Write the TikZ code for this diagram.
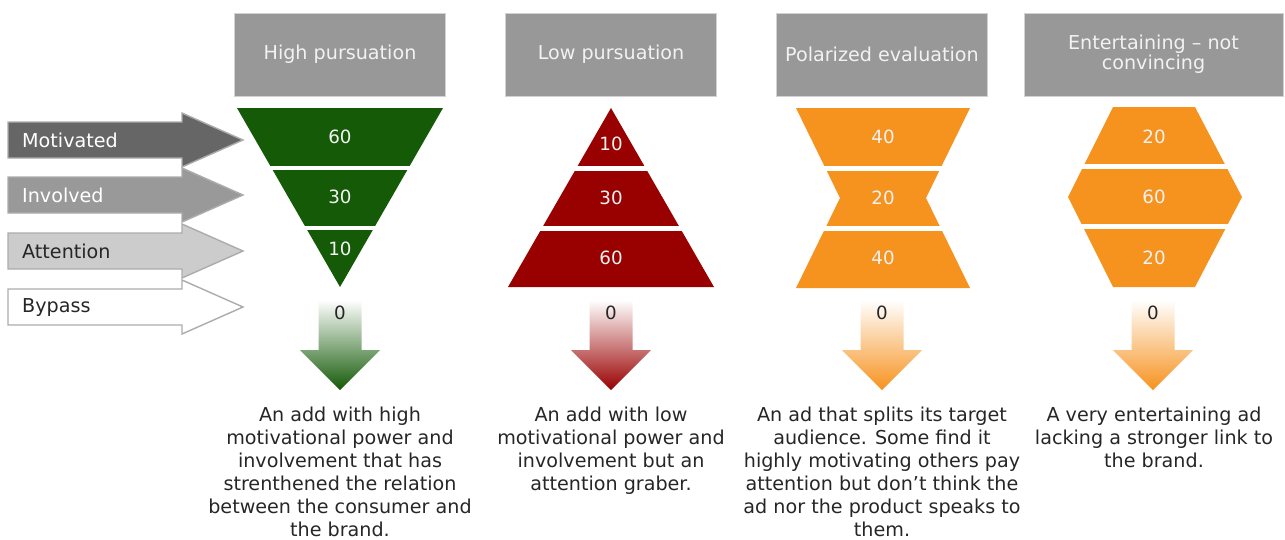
\documentclass[tikz,border=0pt]{standalone}
\usepackage{fontspec}
\setmainfont{DejaVu Sans}

\definecolor{hdrgray}{HTML}{989898}
\definecolor{funnelgreen}{HTML}{145A07}
\definecolor{funnelred}{HTML}{990000}
\definecolor{funnelorange}{HTML}{F6921E}
\definecolor{txtdark}{HTML}{262626}

\begin{document}
\begin{tikzpicture}[x=0.02cm, y=-0.02cm,
        header/.style={rectangle, fill=hdrgray, draw=gray!35, minimum width=4.22cm, minimum height=1.66cm, align=center, text=white!95!black, font=\fontsize{10.9}{11.2}\selectfont},
        level/.style={text=white!95!black, font=\fontsize{10.4}{12}\selectfont},
        gap/.style={draw=white, line width=0.09cm},
        zero/.style={text=txtdark, font=\fontsize{10.4}{12}\selectfont},
        note/.style={align=center, anchor=north, inner sep=0pt, text=txtdark, font=\fontsize{10.9}{13.1}\selectfont},
        sidearrow/.style={draw=gray!65, line width=0.8pt}
    ]
        \useasboundingbox (0,0) rectangle (1285,539);

        % Column headers
        \node [header] (high) at (340,54.5) {High pursuation};
        \node [header] (low) at (611,54.5) {Low pursuation};
        \node [header] (polar) at (882,54.5) {Polarized evaluation};
        \node [header, minimum width=5.18cm] (enter) at (1153.5,54.5) {Entertaining – not\\convincing};

        % Levels on the left
        \foreach \y/\col/\tcol/\lbl [count=\i] in {140/black!60/white/Motivated, 195/black!40/white/Involved, 251/black!20/txtdark/Attention, 307/white/txtdark/Bypass} {
            \draw [sidearrow, fill=\col] (8,\y-18) -- (182,\y-18) -- (182,\y-27) -- (243,\y) -- (182,\y+27) -- (182,\y+18) -- (8,\y+18) -- cycle;
            \node [anchor=west, text=\tcol, font=\fontsize{10.9}{12}\selectfont] (side\i) at (16,\y) {\lbl};
        }

        % High pursuation: inverted triangle
        \fill [funnelgreen] (237,108) -- (443,108) -- (340,287) -- cycle;
        \draw [gap] (260,168) -- (420,168) (295,228) -- (385,228);
        \node [level] (high60) at (340,137) {60};
        \node [level] (high30) at (340,197) {30};
        \node [level] (high10) at (340,249) {10};

        % Low pursuation: pyramid
        \fill [funnelred] (611,108) -- (714,287) -- (508,287) -- cycle;
        \draw [gap] (565,168.5) -- (657,168.5) (530,228.5) -- (692,228.5);
        \node [level] (low10) at (611,144) {10};
        \node [level] (low30) at (611,198) {30};
        \node [level] (low60) at (611,258) {60};

        % Polarized evaluation: hourglass
        \fill [funnelorange] (796,108) -- (970,108) -- (926,198) -- (970,288) -- (796,288) -- (840,198) -- cycle;
        \draw [gap] (815,168.5) -- (951,168.5) (815,228.5) -- (951,228.5);
        \node [level] (polar40a) at (883,137) {40};
        \node [level] (polar20) at (883,198) {20};
        \node [level] (polar40b) at (883,258) {40};

        % Entertaining: hexagon
        \fill [funnelorange] (1113,107) -- (1195,107) -- (1242,197) -- (1195,287) -- (1113,287) -- (1068,197) -- cycle;
        \draw [gap] (1075,166.5) -- (1233,166.5) (1075,226.5) -- (1233,226.5);
        \node [level] (enter20a) at (1154,137) {20};
        \node [level] (enter60) at (1154,197) {60};
        \node [level] (enter20b) at (1154,258) {20};

        % Bypass arrows
        \foreach \x/\col/\nm in {340/funnelgreen/high, 611/funnelred/low, 882/funnelorange/polar, 1153/funnelorange/enter} {
            \shade [top color=white, bottom color=\col] (\x-21.5,300) -- (\x+21.5,300) -- (\x+21.5,350) -- (\x+40,350) -- (\x,390) -- (\x-40,350) -- (\x-21.5,350) -- cycle;
            \node [zero] (\nm zero) at (\x,313) {0};
        }

        % Descriptions
        \node [note] (highnote) at (340,407) {An add with high\\motivational power and\\involvement that has\\strenthened the relation\\between the consumer and\\the brand.};
        \node [note] (lownote) at (611,407) {An add with low\\motivational power and\\involvement but an\\attention graber.};
        \node [note] (polarnote) at (882,407) {An ad that splits its target\\audience. Some find it\\highly motivating others pay\\attention but don’t think the\\ad nor the product speaks to\\them.};
        \node [note] (enternote) at (1154,407) {A very entertaining ad\\lacking a stronger link to\\the brand.};

    \end{tikzpicture}
\end{document}
